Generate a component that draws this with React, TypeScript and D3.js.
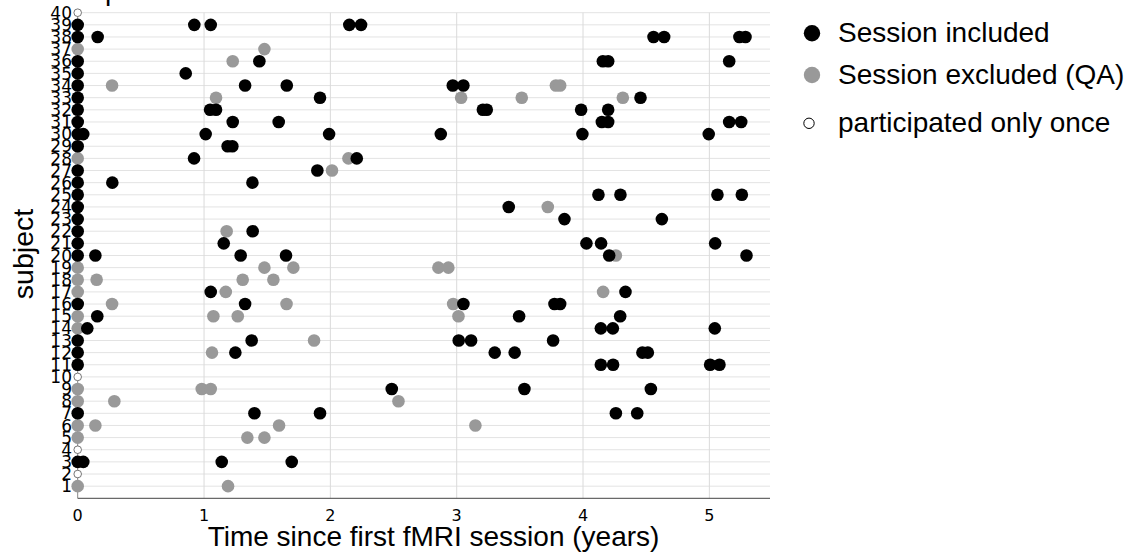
import React from 'react';
import * as d3 from 'd3';

// ---- data ----
const subjectIds = [1, 2, 3, 4, 5, 6, 7, 8, 9, 10, 11, 12, 13, 14, 15, 16, 17, 18, 19, 20,
  21, 22, 23, 24, 25, 26, 27, 28, 29, 30, 31, 32, 33, 34, 35, 36, 37, 38, 39, 40];

const onceOnly = [2, 4, 10, 40];

// session times (years since first session) per subject, index = subject - 1
const includedTimes: number[][] = [
  [], // 1
  [], // 2
  [0, 0.044, 1.14, 1.694], // 3
  [], // 4
  [], // 5
  [], // 6
  [0, 1.399, 1.918, 4.26, 4.429], // 7
  [], // 8
  [2.486, 3.536, 4.537], // 9
  [], // 10
  [0, 4.141, 4.238, 5.006, 5.08], // 11
  [0, 1.248, 3.301, 3.459, 4.47, 4.513], // 12
  [0, 1.377, 3.016, 3.114, 3.763], // 13
  [0.076, 4.141, 4.236, 5.043], // 14
  [0.155, 3.494, 4.294], // 15
  [0, 1.325, 3.053, 3.774, 3.819], // 16
  [1.053, 4.336], // 17
  [], // 18
  [], // 19
  [0, 0.14, 1.29, 1.649, 4.207, 5.294], // 20
  [0, 1.156, 4.027, 4.143, 5.046], // 21
  [0, 1.385], // 22
  [0, 3.853, 4.624], // 23
  [0, 3.412], // 24
  [0, 4.122, 4.296, 5.064, 5.257], // 25
  [0, 0.274, 1.383], // 26
  [0, 1.897], // 27
  [0.921, 2.209], // 28
  [0, 1.187, 1.224], // 29
  [0, 0.044, 1.013, 1.99, 2.874, 3.995, 4.995], // 30
  [0, 1.227, 1.591, 4.149, 4.199, 5.157, 5.252], // 31
  [0, 1.048, 1.095, 3.207, 3.238, 3.985, 4.199], // 32
  [0, 1.918, 4.455], // 33
  [0, 1.325, 1.655, 2.969, 3.053], // 34
  [0, 0.855], // 35
  [0, 1.438, 4.157, 4.199, 5.157], // 36
  [], // 37
  [0, 0.158, 4.558, 4.642, 5.238, 5.286], // 38
  [0, 0.923, 1.053, 2.15, 2.243], // 39
  [], // 40
];

const excludedTimes: number[][] = [
  [0, 1.19], // 1
  [], // 2
  [], // 3
  [], // 4
  [0, 1.343, 1.478], // 5
  [0, 0.14, 1.594, 3.148], // 6
  [], // 7
  [0, 0.29, 2.539], // 8
  [0, 0.982, 1.053], // 9
  [], // 10
  [], // 11
  [1.063], // 12
  [1.871], // 13
  [0], // 14
  [0, 1.074, 1.267, 3.014], // 15
  [0.272, 1.653, 2.972], // 16
  [0, 1.172, 4.159], // 17
  [0, 0.15, 1.306, 1.549], // 18
  [0, 1.478, 1.707, 2.855, 2.934], // 19
  [4.26], // 20
  [], // 21
  [1.179], // 22
  [], // 23
  [3.721], // 24
  [], // 25
  [], // 26
  [2.013], // 27
  [0, 2.143], // 28
  [], // 29
  [], // 30
  [], // 31
  [], // 32
  [1.095, 3.035, 3.515, 4.315], // 33
  [0.272, 3.785, 3.819], // 34
  [], // 35
  [1.227], // 36
  [0, 1.478], // 37
  [], // 38
  [], // 39
  [], // 40
];

const xTickValues = [0, 1, 2, 3, 4, 5];
const legendLabels = ['Session included', 'Session excluded (QA)', 'participated only once'];

const W = 1129;
const H = 552;
const SANS = '"Liberation Sans", Arial, Helvetica, sans-serif';
const DEJAVU = '"DejaVu Sans", sans-serif';
const BLACK = '#000000';
const GREY = '#999999';

export default function App() {
  const x = d3.scaleLinear().domain([0, 5.48]).range([77.7, 770]);
  const y = d3.scaleLinear().domain([0, 40]).range([498.3, 12.7]);

  const greyPts: { s: number; t: number }[] = [];
  const blackPts: { s: number; t: number }[] = [];
  subjectIds.forEach((s, i) => {
    excludedTimes[i].forEach((t) => greyPts.push({ s, t }));
    includedTimes[i].forEach((t) => blackPts.push({ s, t }));
  });

  return (
    <div style={{ position: 'absolute', left: 0, top: 0 }}>
      <svg width={W} height={H} style={{ display: 'block', background: '#fff' }}>
        {/* clipped title */}
        <text x={52} y={0.4} fontFamily={SANS} fontSize={28} fill="#000">
          Temporal distribution of sessions
        </text>

        {/* grid */}
        <g>
          {subjectIds.map((s) => (
            <line key={'h' + s} x1={x(0)} x2={x(5.48)} y1={y(s)} y2={y(s)} stroke="#e3e3e3" strokeWidth={1} />
          ))}
          {xTickValues.filter((v) => v > 0).map((v) => (
            <line key={'v' + v} x1={x(v)} x2={x(v)} y1={y(40)} y2={y(0)} stroke="#dadada" strokeWidth={1} />
          ))}
        </g>

        {/* axes */}
        <line x1={x(0)} x2={x(0)} y1={y(40)} y2={y(0)} stroke="#888" strokeWidth={1} />
        <line x1={x(0)} x2={x(5.48)} y1={y(0)} y2={y(0)} stroke="#444" strokeWidth={1} />

        {/* y tick labels */}
        <g fontFamily={DEJAVU} fontSize={17} fill="#000" textAnchor="end">
          {subjectIds.map((s) => (
            <text key={'yl' + s} x={72} y={y(s)} dy="0.36em">
              {s}
            </text>
          ))}
        </g>

        {/* x tick labels */}
        <g fontFamily={DEJAVU} fontSize={16} fill="#000" textAnchor="middle">
          {xTickValues.map((v) => (
            <text key={'xl' + v} x={x(v)} y={521}>
              {v}
            </text>
          ))}
        </g>

        {/* axis titles */}
        <text x={433.5} y={545.5} textAnchor="middle" fontFamily={SANS} fontSize={28} fill="#000">
          Time since first fMRI session (years)
        </text>
        <text
          transform={`translate(32.5,254) rotate(-90)`}
          textAnchor="middle"
          fontFamily={SANS}
          fontSize={28.5}
          fill="#000"
        >
          subject
        </text>

        {/* points */}
        <g>
          {greyPts.map((p, i) => (
            <circle key={'g' + i} cx={x(p.t)} cy={y(p.s)} r={6.3} fill={GREY} />
          ))}
          {blackPts.map((p, i) => (
            <circle key={'b' + i} cx={x(p.t)} cy={y(p.s)} r={6.3} fill={BLACK} />
          ))}
          {onceOnly.map((s) => (
            <circle key={'o' + s} cx={x(0)} cy={y(s)} r={3.8} fill="#fff" stroke="#555" strokeWidth={0.8} />
          ))}
        </g>

        {/* legend */}
        <g fontFamily={SANS} fontSize={28} fill="#000">
          <circle cx={812} cy={33.3} r={8.2} fill={BLACK} />
          <text x={838} y={42}>{legendLabels[0]}</text>
          <circle cx={812} cy={75} r={8.2} fill={GREY} />
          <text x={838} y={83.5}>{legendLabels[1]}</text>
          <circle cx={809} cy={123.3} r={5.2} fill="#fff" stroke="#000" strokeWidth={1} />
          <text x={838} y={132}>{legendLabels[2]}</text>
        </g>
      </svg>
    </div>
  );
}
